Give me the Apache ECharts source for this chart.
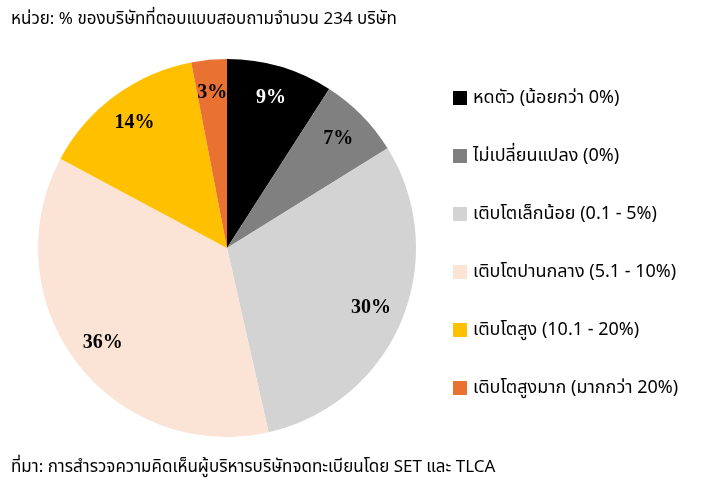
<!DOCTYPE html>
<html><head><meta charset="utf-8">
<script src="https://cdn.jsdelivr.net/npm/echarts@6/dist/echarts.min.js"></script>
<style>html,body{margin:0;padding:0;background:#fff}#c{width:702px;height:488px}</style>
</head><body><div id="c"></div>
<script>
const categories = ['หดตัว (น้อยกว่า 0%)','ไม่เปลี่ยนแปลง (0%)','เติบโตเล็กน้อย (0.1 - 5%)','เติบโตปานกลาง (5.1 - 10%)','เติบโตสูง (10.1 - 20%)','เติบโตสูงมาก (มากกว่า 20%)'];
const values = [9, 7, 30, 36, 14, 3];
const colors = ['#000000','#808080','#d3d3d3','#fbe3d6','#ffc000','#e97132'];
const labelColors = ['#ffffff','#000000','#000000','#000000','#000000','#000000'];
const titleText = 'หน่วย: % ของบริษัทที่ตอบแบบสอบถามจำนวน 234 บริษัท';
const sourceText = 'ที่มา: การสำรวจความคิดเห็นผู้บริหารบริษัทจดทะเบียนโดย SET และ TLCA';

const FONT = "'Noto Sans', 'Noto Sans Thai', sans-serif";
const chart = echarts.init(document.getElementById('c'), null, {renderer:'canvas'});
const data = categories.map((n,i)=>({name:n, value:values[i], itemStyle:{color:colors[i]}}));
const labelData = categories.map((n,i)=>({name:n, value:values[i], label:{color:labelColors[i]}}));
chart.setOption({
  animation:false,
  title:[
    {text:titleText, left:6, top:6, textStyle:{fontFamily:FONT, fontSize:17, fontWeight:'normal', color:'#000'}},
    {text:sourceText, left:6, top:454, textStyle:{fontFamily:FONT, fontSize:17, fontWeight:'normal', color:'#000'}}
  ],
  legend:{
    orient:'vertical', left:453, top:89, itemWidth:14, itemHeight:14, itemGap:40,
    icon:'rect', data:categories, padding:0,
    textStyle:{fontFamily:FONT, fontSize:18, color:'#000', padding:[0,0,0,1]}
  },
  series:[
    {type:'pie', center:[227,248], radius:189, startAngle:90, clockwise:true,
     label:{show:false}, labelLine:{show:false}, data:data, silent:true,
     itemStyle:{borderWidth:0}},
    {type:'pie', center:[227,248], radius:[117,189], startAngle:90, clockwise:true,
     itemStyle:{color:'rgba(0,0,0,0)'}, silent:true, legendHoverLink:false,
     label:{show:true, position:'inside', formatter:'{c}%', fontFamily:"'Liberation Serif', serif", fontWeight:'bold', fontSize:20},
     labelLine:{show:false}, data:labelData}
  ]
});
</script></body></html>
